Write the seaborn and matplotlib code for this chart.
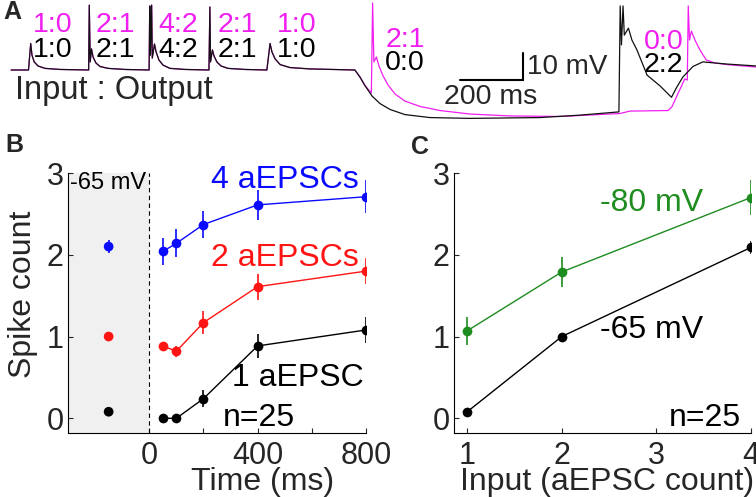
import matplotlib
matplotlib.use("Agg")
import matplotlib.pyplot as plt
import seaborn as sns
import pandas as pd

sns.set_style("ticks")
plt.rcParams['font.family'] = ['Liberation Sans', 'DejaVu Sans']

MAGENTA = '#f01ef0'
BLUE = '#0a0aff'
RED = '#ff1414'
GREEN = '#1e8c1e'
SHADE = '#f0f0f0'

# ---- Panel A: example voltage traces (time in ms, membrane potential in mV)
# both cells at -65 mV: identical responses to 1, 2, 4, 2, 1 aEPSCs
shared_t = [0, 55, 62, 66, 73, 85, 107, 155, 245, 247, 250, 254, 259, 268, 281, 306, 360,
            436, 438, 440, 444, 446, 453, 458, 467, 480, 502, 550,
            625, 628, 630, 636, 641, 650, 663, 685, 739,
            808, 818, 824, 834, 850, 881, 944, 1086, 1102, 1118]
shared_v = [-65, -65, -55.2, -59.5, -62.0, -63.5, -64.4, -64.8, -65, -41.0, -62.0, -57.2, -60.2, -62.4, -63.7, -64.4, -64.8,
            -65, -41.3, -59.5, -41.0, -60.6, -55.4, -58.3, -61.3, -63.2, -64.4, -64.8,
            -65, -41.7, -62.0, -57.6, -59.8, -62.0, -63.5, -64.4, -64.8,
            -65, -55.2, -58.3, -60.9, -63.0, -64.1, -64.6, -65, -67.6, -70.8]
# black trace: hyperpolarised, then 2 aEPSCs -> 2 spikes
black_t = [1140, 1165, 1197, 1244, 1323, 1450, 1671, 1797, 1920,
           1924, 1928, 1933, 1937, 1950, 1961, 1977, 2009, 2050, 2086,
           2103, 2122, 2154, 2185, 2223, 2261, 2353]
black_v = [-74.6, -77.4, -79.6, -81.5, -82.6, -82.9, -82.6, -81.7, -80.5,
           -41.3, -55.7, -41.3, -52.1, -49.5, -53.9, -57.6, -66.9, -70.9, -75.1,
           -71.3, -67.6, -63.7, -62.0, -62.4, -62.8, -63.5]
# magenta trace: 2 aEPSCs -> 1 spike during hyperpolarisation, rebound spike later
magenta_t = [1138, 1142, 1146, 1154, 1162, 1175, 1191, 1213, 1244, 1292, 1355, 1450,
             1576, 1734, 1923, 1955, 2075, 2087, 2128, 2136, 2139, 2143, 2149,
             2160, 2176, 2196, 2223, 2261, 2353]
magenta_v = [-73.5, -40.2, -62.0, -60.2, -63.5, -67.2, -70.6, -73.9, -76.5, -78.5, -80.0, -81.3,
             -82.0, -82.2, -81.1, -80.2, -80.0, -78.7, -68.3, -68.7, -41.3, -53.9, -50.6,
             -53.9, -57.6, -61.3, -62.4, -63.0, -63.9]

ratio_t = [133, 328, 527, 715, 903]
ratio_in_out = ['1:0', '2:1', '4:2', '2:1', '1:0']
SCALE_MS = 200
SCALE_MV = 10

# ---- Panel B: spike count vs time after hyperpolarisation
delays = [50, 100, 200, 400, 800]
pre_x = -150
four_b = [2.04, 2.14, 2.37, 2.61, 2.71]
four_b_err = [0.16, 0.17, 0.17, 0.18, 0.20]
two_b = [0.885, 0.82, 1.17, 1.61, 1.80]
two_b_err = [0.03, 0.07, 0.14, 0.16, 0.16]
one_b = [0.0, 0.0, 0.24, 0.885, 1.08]
one_b_err = [0.02, 0.02, 0.10, 0.15, 0.16]
pre_vals = [2.10, 1.00, 0.08]
pre_err = [0.08, 0.02, 0.02]

# ---- Panel C: spike count vs input
inputs = [1, 2, 4]
mv80 = [1.07, 1.79, 2.70]
mv80_err = [0.17, 0.18, 0.21]
mv65 = [0.08, 1.00, 2.09]
mv65_err = [0.03, 0.03, 0.08]

W, H = 756, 497
fig = plt.figure(figsize=(W / 100, H / 100), dpi=100)

FS = 23
TFS = 22
RFS = 20.5
TICK_KW = dict(direction='in', length=3.6, width=0.8, labelsize=TFS)


def trace(ax, t, v, color):
    df = pd.DataFrame({'t': t, 'v': v})
    sns.lineplot(data=df, x='t', y='v', sort=False, estimator=None,
                 color=color, linewidth=0.9, ax=ax)


# Panel A
axA = fig.add_axes([0, 1 - 125 / H, 1, 125 / H])
trace(axA, shared_t + magenta_t, shared_v + magenta_v, MAGENTA)
trace(axA, shared_t + black_t, shared_v + black_v, '#111111')
axA.set_xlim(-35, 2353)
axA.set_ylim(-85.35, -39.1)
axA.axis('off')
for t, r in zip(ratio_t, ratio_in_out):
    axA.text(t, -48.4, r, color=MAGENTA, fontsize=RFS, ha='center', va='center')
    axA.text(t, -57.6, r, color='black', fontsize=RFS, ha='center', va='center')
axA.text(1244, -53.9, '2:1', color=MAGENTA, fontsize=RFS, ha='center', va='center')
axA.text(1244, -62.4, '0:0', color='black', fontsize=RFS, ha='center', va='center')
axA.text(2062, -54.5, '0:0', color=MAGENTA, fontsize=RFS, ha='center', va='center')
axA.text(2059, -63.2, '2:2', color='black', fontsize=RFS, ha='center', va='center')
# scale bar
sb_t, sb_v = 1418, -68.7
axA.plot([sb_t, sb_t + SCALE_MS, sb_t + SCALE_MS], [sb_v, sb_v, sb_v + SCALE_MV],
         color='black', linewidth=1.5, solid_joinstyle='miter')
axA.text(1630, -63.8, '10 mV', fontsize=20, ha='left', va='center')
axA.text(1516, -74.9, '200 ms', fontsize=20.5, ha='center', va='center')
axA.text(13, -72.4, 'Input : Output', fontsize=23.5, ha='left', va='center')
fig.text(12 / W, 1 - 12 / H, 'A', fontsize=18, fontweight='bold', ha='center', va='center')

# Panel B
axB = fig.add_axes([68 / W, 1 - 433 / H, 298 / W, 260 / H])
axB.axvspan(-300, 0, color=SHADE, zorder=0, linewidth=0)
axB.axvline(0, color='black', linestyle=(0, (4, 3)), linewidth=0.8)
for vals, errs, col in [(four_b, four_b_err, BLUE), (two_b, two_b_err, RED), (one_b, one_b_err, 'black')]:
    axB.vlines(delays, [v - e for v, e in zip(vals, errs)], [v + e for v, e in zip(vals, errs)],
               color=col, linewidth=1.2)
    sns.lineplot(x=delays, y=vals, color=col, marker='o', markersize=7,
                 markeredgewidth=0, linewidth=1, ax=axB)
for v, e, col in zip(pre_vals, pre_err, [BLUE, RED, 'black']):
    axB.vlines(pre_x, v - e, v + e, color=col, linewidth=1.2)
sns.scatterplot(x=[pre_x] * 3, y=pre_vals, hue=['4', '2', '1'],
                palette={'4': BLUE, '2': RED, '1': 'black'}, s=49, linewidth=0,
                legend=False, ax=axB)
axB.set_xlim(-300, 800)
axB.set_ylim(-0.18, 3)
axB.set_xticks([0, 400, 800])
axB.set_xticks([200, 600], minor=True)
axB.set_yticks([0, 1, 2, 3])
axB.tick_params(axis='both', which='major', **TICK_KW)
axB.tick_params(axis='x', which='minor', direction='in', length=3.6, width=0.8)
axB.tick_params(axis='x', pad=6)
axB.tick_params(axis='y', pad=3)
axB.set_xlabel('Time (ms)', fontsize=FS)
axB.set_ylabel('Spike count', fontsize=FS)
axB.xaxis.set_label_coords(0.654, -0.13)
axB.yaxis.set_label_coords(-0.1, 0.535)
axB.text(772, 2.91, '4 aEPSCs', color=BLUE, fontsize=FS, ha='right', va='center')
axB.text(772, 1.96, '2 aEPSCs', color=RED, fontsize=FS, ha='right', va='center')
axB.text(790, 0.49, '1 aEPSC', color='black', fontsize=FS, ha='right', va='center')
axB.text(404, 0.0, 'n=25', color='black', fontsize=FS, ha='center', va='center')
axB.text(-291, 2.88, '-65 mV', color='black', fontsize=17, ha='left', va='center')
fig.text(14 / W, 1 - 145 / H, 'B', fontsize=18, fontweight='bold', ha='center', va='center')

# Panel C
axC = fig.add_axes([454 / W, 1 - 433 / H, 297 / W, 260 / H])
for vals, errs, col in [(mv80, mv80_err, GREEN), (mv65, mv65_err, 'black')]:
    axC.vlines(inputs, [v - e for v, e in zip(vals, errs)], [v + e for v, e in zip(vals, errs)],
               color=col, linewidth=1.2)
    sns.lineplot(x=inputs, y=vals, color=col, marker='o', markersize=7,
                 markeredgewidth=0, linewidth=1, ax=axC)
axC.set_xlim(0.86, 4)
axC.set_ylim(-0.18, 3)
axC.set_xticks([1, 2, 3, 4])
axC.set_yticks([0, 1, 2, 3])
axC.tick_params(axis='both', which='major', **TICK_KW)
axC.tick_params(axis='x', pad=6)
axC.tick_params(axis='y', pad=3)
axC.set_xlabel('Input (aEPSC count)', fontsize=FS)
axC.xaxis.set_label_coords(0.517, -0.13)
axC.text(2.95, 2.63, '-80 mV', color=GREEN, fontsize=FS, ha='center', va='center')
axC.text(2.95, 1.08, '-65 mV', color='black', fontsize=FS, ha='center', va='center')
axC.text(3.89, 0.0, 'n=25', color='black', fontsize=FS, ha='right', va='center')
fig.text(420 / W, 1 - 147 / H, 'C', fontsize=18, fontweight='bold', ha='center', va='center')

for ax in (axB, axC):
    sns.despine(ax=ax)
    for s in ('left', 'bottom'):
        ax.spines[s].set_linewidth(0.8)
        ax.spines[s].set_color('black')

fig.savefig('out.png', dpi=100)
